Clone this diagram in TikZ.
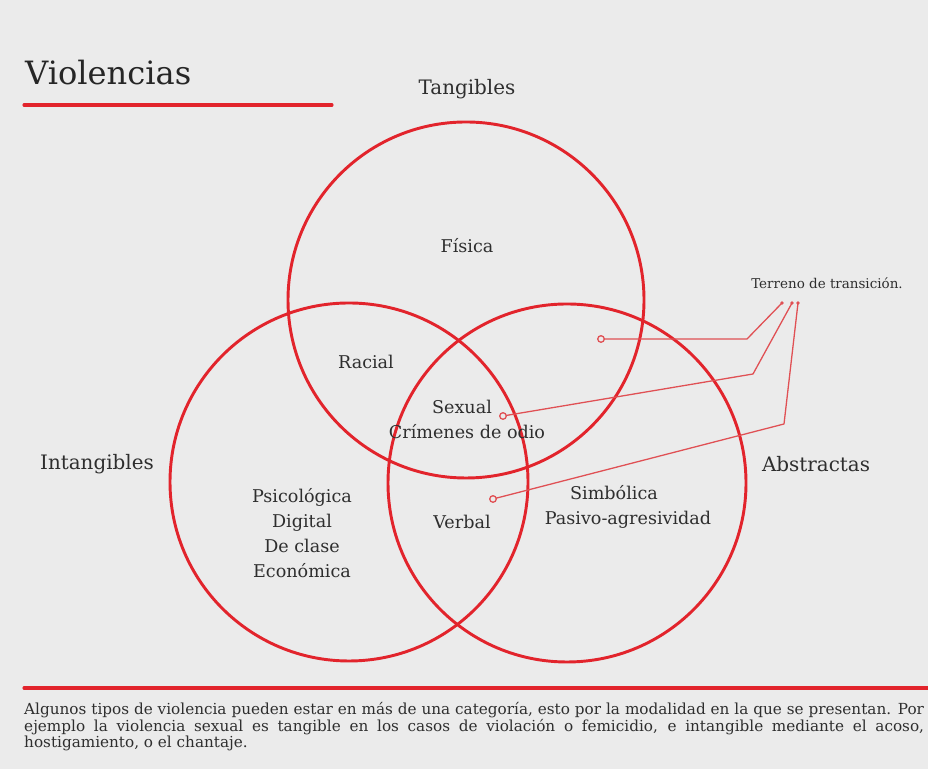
\documentclass[tikz,border=0pt]{standalone}
\usepackage{tkz-euclide}
\usepackage{tikz}
\usepackage{fontspec}
\setmainfont{DejaVu Serif}

\definecolor{venn}{RGB}{226,36,44}
\definecolor{guia}{RGB}{224,80,84}
\definecolor{tinta}{RGB}{46,46,46}
\definecolor{marmol}{RGB}{235,235,235}

\tikzset{
  circulo/.style={draw=venn, line width=2.5pt},
  enlace/.style={draw=guia, line width=1.1pt, line cap=round, line join=round},
  raya/.style={draw=venn, line width=2.6pt},
  etiqueta/.style={text=tinta, inner sep=0pt, font=\fontsize{17}{20}\selectfont},
  tipo/.style={text=tinta, inner sep=0pt, font=\fontsize{15}{21.3}\selectfont},
  nota/.style={text=tinta, inner sep=0pt, anchor=base west, font=\fontsize{13}{15}\selectfont}
}

\begin{document}
\begin{tikzpicture}[x=0.03cm,y=0.03cm]
    \fill[marmol] (0,0) rectangle (928,769);
    \useasboundingbox (0,0) rectangle (928,769);
    % the three circles
    \tkzDefPoint(466,469){T}
    \tkzDefPoint(644,469){T_1}
    \tkzDefPoint(349,287){I}
    \tkzDefPoint(528,287){I_1}
    \tkzDefPoint(567,286){A}
    \tkzDefPoint(746,286){A_1}
    \tkzDrawCircles[circulo](T,T_1 I,I_1 A,A_1)
    % title and rules
    \node[anchor=base west, inner sep=0pt, text=black!85,
          font=\fontsize{27.4}{32}\selectfont] (titulo) at (25,684) {Violencias};
    \tkzDefPoint(24,664){R_1}
    \tkzDefPoint(332,664){R_2}
    \tkzDefPoint(24,81){S_1}
    \tkzDefPoint(940,81){S_2}
    \tkzDrawSegments[raya](R_1,R_2 S_1,S_2)
    % categories
    \node[etiqueta] (tangibles) at (467,680) {Tangibles};
    \node[etiqueta] (intangibles) at (97,305) {Intangibles};
    \node[etiqueta] (abstractas) at (816,305) {Abstractas};
    % types
    \node[tipo] (fisica) at (467,523) {Física};
    \node[tipo] (racial) at (366,407) {Racial};
    \node[tipo] (sexual) at (462,362) {Sexual};
    \node[tipo] (odio) at (467,337) {Crímenes de odio};
    \node[tipo, align=center] (psico) at (302,236) {Psicológica\\Digital\\De clase\\Económica};
    \node[tipo] (verbal) at (462,247) {Verbal};
    \node[tipo] (simbolica) at (614,276) {Simbólica};
    \node[tipo] (pasivo) at (628,249) {Pasivo-agresividad};
    \node[text=tinta, inner sep=0pt, font=\fontsize{11.5}{13}\selectfont] (terreno) at (827,486) {Terreno de transición.};
    % leaders
    \tkzDefPoint(601,430){P_1}
    \tkzDefPoint(747,430){Q_1}
    \tkzDefPoint(782,466){E_1}
    \tkzDefPoint(503,353){P_2}
    \tkzDefPoint(753,395){Q_2}
    \tkzDefPoint(792,466){E_2}
    \tkzDefPoint(493,270){P_3}
    \tkzDefPoint(784,345){Q_3}
    \tkzDefPoint(798,466){E_3}
    \draw[enlace] (P_1) -- (Q_1) -- (E_1);
    \draw[enlace] (P_2) -- (Q_2) -- (E_2);
    \draw[enlace] (P_3) -- (Q_3) -- (E_3);
    \filldraw[draw=guia, fill=marmol, line width=1.1pt] (P_1) circle (2.8pt) (P_2) circle (2.8pt) (P_3) circle (2.8pt);
    \fill[guia] (E_1) circle (1.6pt) (E_2) circle (1.6pt) (E_3) circle (1.6pt);
    % note
    \node[nota] (nota1) at (24,54) {\makebox[768pt][s]{Algunos tipos de violencia pueden estar en más de una categoría, esto por la modalidad en la que se presentan. Por}};
    \node[nota] (nota2) at (24,37.5) {\makebox[768pt][s]{ejemplo la violencia sexual es tangible en los casos de violación o femicidio, e intangible mediante el acoso,}};
    \node[nota] (nota3) at (24,21) {hostigamiento, o el chantaje.};
\end{tikzpicture}
\end{document}
